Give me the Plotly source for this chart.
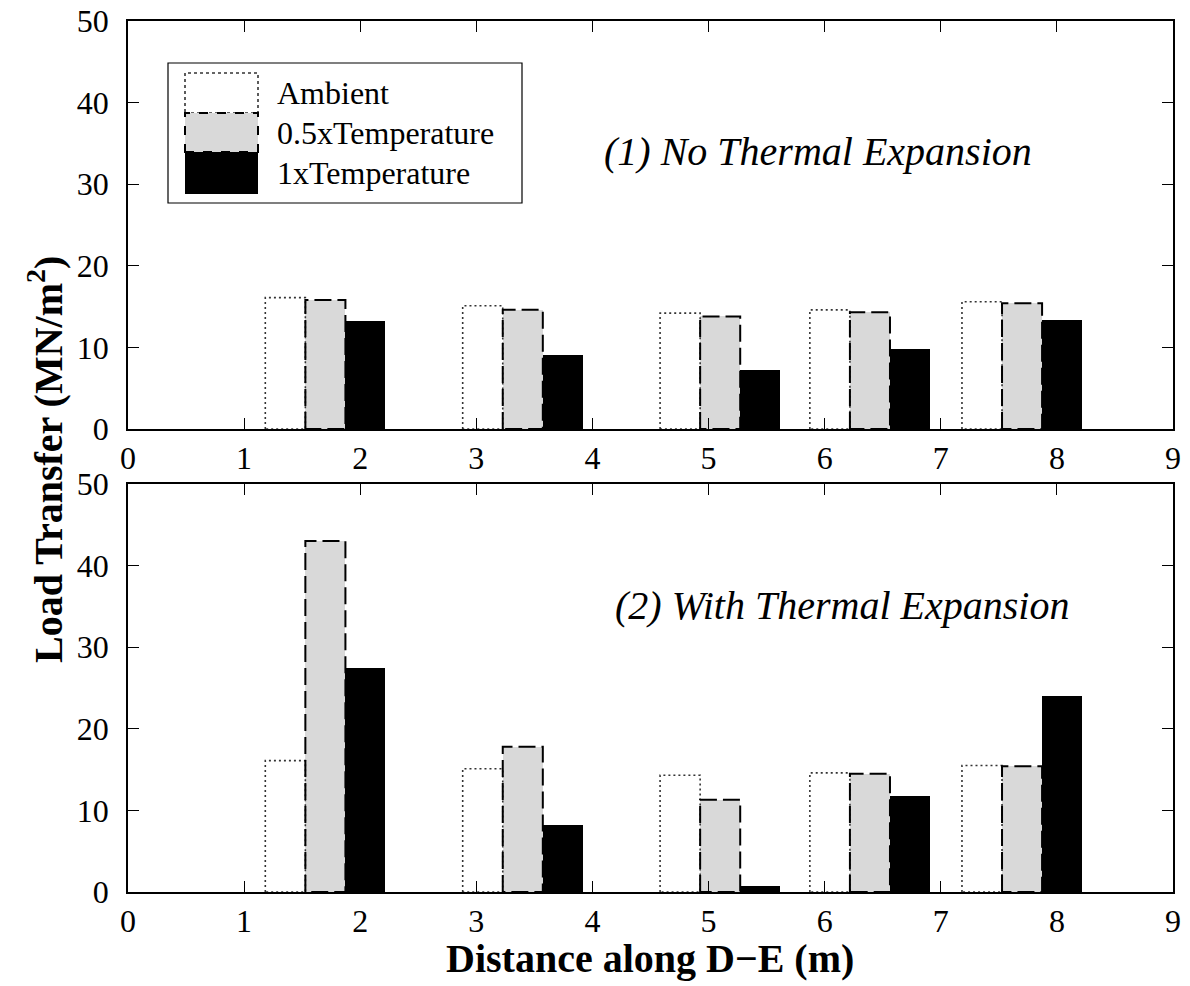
import plotly.graph_objects as go

# ---------------- data ----------------
group_centers = [1.70, 3.40, 5.10, 6.39, 7.70]
bar_width = 0.345

top_ambient = [16.1, 15.1, 14.2, 14.6, 15.6]
top_half = [15.8, 14.6, 13.8, 14.3, 15.4]
top_full = [13.2, 9.1, 7.2, 9.8, 13.4]

bot_ambient = [16.1, 15.1, 14.3, 14.6, 15.5]
bot_half = [43.0, 17.8, 11.3, 14.5, 15.4]
bot_full = [27.4, 8.2, 0.77, 11.8, 24.0]

series_names = ["Ambient", "0.5xTemperature", "1xTemperature"]
x_ticks = list(range(0, 10))
y_ticks = [0, 10, 20, 30, 40, 50]

# ---------------- style ----------------
FONT = "Liberation Serif, Times New Roman, Times, serif"
GREY = "#d9d9d9"
W, H = 1190, 986
OFF = 8  # page body margin offset
L = 128 - OFF
T = 21 - OFF
R = W - (1173 - OFF)
B = H - (892 - OFF)
PW, PH = W - L - R, H - T - B


def px_x(px):
    return (px - OFF - L) / PW


def px_y(py):
    return (H - B - (py - OFF)) / PH


top_dom = [px_y(429), 1.0]
bot_dom = [0.0, px_y(484)]

fig = go.Figure()


def outline(xc, vals):
    xs, ys = [], []
    for c, v in zip(xc, vals):
        x0, x1 = c - bar_width / 2, c + bar_width / 2
        xs += [x0, x0, x1, x1, x0, None]
        ys += [0, v, v, 0, 0, None]
    return xs, ys


def add_panel(amb, half, full, xa, ya):
    x_amb = [c - bar_width for c in group_centers]
    x_half = list(group_centers)
    x_full = [c + bar_width for c in group_centers]
    fig.add_trace(go.Bar(x=x_amb, y=amb, width=bar_width, marker=dict(color="white", line=dict(width=0)),
                         xaxis=xa, yaxis=ya, showlegend=False, name=series_names[0]))
    xs, ys = outline(x_amb, amb)
    fig.add_trace(go.Scatter(x=xs, y=ys, mode="lines", line=dict(color="#333333", width=1.6, dash="2px,3px"),
                             xaxis=xa, yaxis=ya, showlegend=False, hoverinfo="skip"))
    fig.add_trace(go.Bar(x=x_half, y=half, width=bar_width, marker=dict(color=GREY, line=dict(width=0)),
                         xaxis=xa, yaxis=ya, showlegend=False, name=series_names[1]))
    xs, ys = outline(x_half, half)
    fig.add_trace(go.Scatter(x=xs, y=ys, mode="lines", line=dict(color="black", width=2, dash="17px,6px"),
                             xaxis=xa, yaxis=ya, showlegend=False, hoverinfo="skip"))
    fig.add_trace(go.Bar(x=x_full, y=full, width=bar_width, marker=dict(color="black", line=dict(width=0)),
                         xaxis=xa, yaxis=ya, showlegend=False, name=series_names[2]))


add_panel(top_ambient, top_half, top_full, "x", "y")
add_panel(bot_ambient, bot_half, bot_full, "x2", "y2")

axis_common = dict(
    showline=True, linecolor="black", linewidth=1.6, mirror="allticks",
    ticks="inside", ticklen=11, tickwidth=1.2, tickcolor="black",
    showgrid=False, zeroline=False, automargin=False, ticklabeloverflow="allow",
    tickfont=dict(family=FONT, size=32, color="black"),
)

fig.update_layout(
    width=W, height=H,
    margin=dict(l=L, r=R, t=T, b=B, autoexpand=False),
    paper_bgcolor="white", plot_bgcolor="white",
    barmode="overlay", bargap=0,
    showlegend=False,
    xaxis=dict(domain=[0, 1], anchor="y", range=[0, 9], tickvals=x_ticks, ticklabelstandoff=0, **axis_common),
    yaxis=dict(domain=top_dom, anchor="x", range=[0, 50], tickvals=y_ticks, ticklabelstandoff=11, **axis_common),
    xaxis2=dict(domain=[0, 1], anchor="y2", range=[0, 9], tickvals=x_ticks, ticklabelstandoff=0, **axis_common),
    yaxis2=dict(domain=bot_dom, anchor="x2", range=[0, 50], tickvals=y_ticks, ticklabelstandoff=11, **axis_common),
)

annotations = [
    dict(text="(1) No Thermal Expansion", x=px_x(818), y=px_y(152), xref="paper", yref="paper",
         showarrow=False, font=dict(family=FONT, size=40, color="black", style="italic"),
         xanchor="center", yanchor="middle"),
    dict(text="(2) With Thermal Expansion", x=px_x(842), y=px_y(605), xref="paper", yref="paper",
         showarrow=False, font=dict(family=FONT, size=40, color="black", style="italic"),
         xanchor="center", yanchor="middle"),
    dict(text="<b>Distance along D\u2212E (m)</b>", x=px_x(650), y=px_y(958), xref="paper", yref="paper",
         showarrow=False, font=dict(family=FONT, size=40, color="black"), xanchor="center", yanchor="middle"),
    dict(text="<b>Load Transfer (MN/m<sup>2</sup>)</b>", x=px_x(45), y=px_y(460), xref="paper", yref="paper",
         showarrow=False, font=dict(family=FONT, size=40, color="black"), textangle=-90,
         xanchor="center", yanchor="middle"),
]

# legend (custom, large swatches)
leg_box = dict(type="rect", xref="paper", yref="paper", x0=px_x(168), x1=px_x(522), y0=px_y(203), y1=px_y(63),
               line=dict(color="black", width=1.2), fillcolor="white", layer="above")
shapes = [leg_box]
sw_x0, sw_x1 = px_x(185), px_x(258)
rows = [(73, 113), (113, 152), (152, 194)]
shapes.append(dict(type="rect", xref="paper", yref="paper", x0=sw_x0, x1=sw_x1, y0=px_y(rows[0][1]), y1=px_y(rows[0][0]),
                   fillcolor="white", line=dict(color="#333333", width=1.6, dash="dot"), layer="above"))
shapes.append(dict(type="rect", xref="paper", yref="paper", x0=sw_x0, x1=sw_x1, y0=px_y(rows[1][1]), y1=px_y(rows[1][0]),
                   fillcolor=GREY, line=dict(color="black", width=2, dash="dash"), layer="above"))
shapes.append(dict(type="rect", xref="paper", yref="paper", x0=sw_x0, x1=sw_x1, y0=px_y(rows[2][1]), y1=px_y(rows[2][0]),
                   fillcolor="black", line=dict(color="black", width=0), layer="above"))
for name, (y0, y1) in zip(series_names, rows):
    annotations.append(dict(text=name, x=px_x(275), y=px_y((y0 + y1) / 2), xref="paper", yref="paper",
                            showarrow=False, font=dict(family=FONT, size=32, color="black"),
                            xanchor="left", yanchor="middle"))

fig.update_layout(annotations=annotations, shapes=shapes)

fig.write_html("out.html")
